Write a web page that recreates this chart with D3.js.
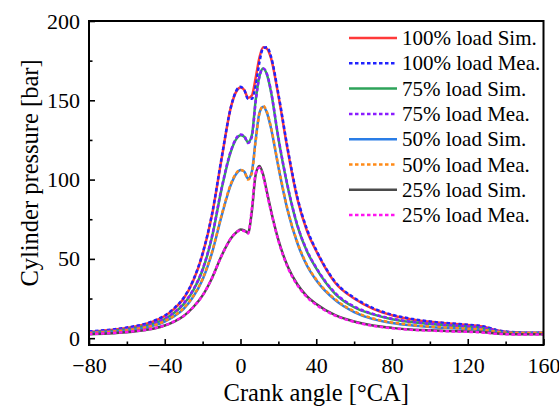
<!DOCTYPE html>
<html>
<head>
<meta charset="utf-8">
<script src="https://cdn.jsdelivr.net/npm/d3@7"></script>
<style>
  body { margin: 0; background: #fff; }
  svg { display: block; font-family: 'Liberation Serif', 'Times New Roman', serif; }
</style>
</head>
<body>
<svg id="chart" width="559" height="408"></svg>
<script>
// crank angle grid shared by all series
const angles = [-80, -70, -60, -50, -45, -40, -35, -30, -25, -20, -15, -10, -5, -2, 0, 2, 4, 6, 8, 10, 12, 14, 16, 20, 25, 30, 35, 40, 50, 60, 70, 80, 90, 100, 110, 120, 125, 130, 135, 140, 150, 160]

const sim100 = [4, 5, 6.5, 9, 11, 14, 18.5, 25, 36, 53, 78, 113, 146, 156, 158, 156.5, 151.5, 153, 164, 177, 183.5, 182.5, 177, 153, 118, 88, 68, 55, 35, 25, 18.5, 14.5, 12, 10.3, 9.2, 8.3, 7.8, 6.8, 5, 4, 3.3, 3.2]
const mea100 = [4.3, 5.2, 6.7, 9.2, 11.3, 14.3, 19, 25.5, 36.5, 53.5, 78.5, 113.5, 146, 156.5, 158.5, 156.5, 151, 151, 159, 174, 183, 183.5, 178, 154, 119, 89, 69, 55.5, 35.5, 25.5, 19, 14.8, 12.3, 10.5, 9.4, 8.5, 8, 7, 5.2, 4.2, 3.5, 3.4]
const sim75 = [3.5, 4.3, 5.6, 7.8, 9.5, 12, 16, 21.5, 30, 43, 64, 94, 118, 126, 128, 127, 123.5, 128, 150, 165, 170, 166, 156, 126, 95, 71, 55, 44, 28, 19.5, 15, 12, 10.2, 8.9, 8, 7.2, 6.8, 6, 4.5, 3.6, 3.2, 3.2]
const mea75 = [3.7, 4.5, 5.8, 8, 9.7, 12.3, 16.3, 22, 30.5, 43.5, 64.5, 94.5, 118.5, 126.5, 128.5, 127.5, 123, 127, 149, 165, 170, 166.5, 156.5, 126.5, 95.5, 71.5, 55.5, 44.5, 28.5, 20, 15.3, 12.3, 10.4, 9.1, 8.2, 7.4, 7, 6.2, 4.7, 3.8, 3.4, 3.4]
const sim50 = [3, 3.7, 4.8, 6.7, 8.2, 10.5, 13.8, 18.5, 26, 37, 54, 77, 97, 104, 106, 105, 100.5, 105, 125, 142, 146, 142, 133, 108, 80, 60, 46, 36.5, 24, 16.5, 12, 9.6, 8.1, 7.1, 6.4, 5.8, 5.5, 4.8, 3.9, 3.3, 3, 3]
const mea50 = [3.2, 3.9, 5, 6.9, 8.4, 10.8, 14.1, 19, 26.5, 37.5, 54.5, 77.5, 97.5, 104.5, 106, 105, 100, 104, 124, 141.5, 146.5, 142.5, 133.5, 108.5, 80.5, 60.5, 46.5, 37, 24.5, 17, 12.4, 9.9, 8.4, 7.3, 6.6, 6, 5.7, 5, 4.1, 3.5, 3.2, 3.2]
const sim25 = [2.5, 3, 3.8, 5.2, 6.3, 8, 10.5, 14, 19.5, 27, 38, 52, 63, 67, 68.5, 68, 66.5, 80, 103, 108.5, 103, 92, 81, 62, 45, 34, 26.5, 21.5, 14.5, 10.5, 8, 6.5, 5.5, 5, 4.5, 4.2, 4, 3.6, 3, 2.7, 2.5, 2.5]
const mea25 = [2.6, 3.1, 3.9, 5.3, 6.4, 8.1, 10.6, 14, 19.5, 27, 38, 52, 63, 67, 68, 67.5, 66, 82, 104, 107.5, 102, 91, 80.5, 61.5, 44.5, 33.5, 26, 21, 14.2, 10.3, 7.8, 6.3, 5.3, 4.8, 4.3, 4, 3.8, 3.4, 2.8, 2.5, 2.3, 2.3]

const seriesNames = ['100% load Sim.', '100% load Mea.', '75% load Sim.', '75% load Mea.', '50% load Sim.', '50% load Mea.', '25% load Sim.', '25% load Mea.']
const seriesValues = [sim100, mea100, sim75, mea75, sim50, mea50, sim25, mea25]
const seriesColors = ['#ff3a3a', '#1f22ff', '#2ea35a', '#8a1cff', '#2a7de6', '#ff8a17', '#4a4a4a', '#ff14f0']
const seriesDashed = [false, true, false, true, false, true, false, true]

const xTicks = [-80, -40, 0, 40, 80, 120, 160]
const xMinor = [-60, -20, 20, 60, 100, 140]
const yTicks = [0, 50, 100, 150, 200]
const yMinor = [25, 75, 125, 175]

const plotLeft = 89, plotRight = 543.5, plotTop = 21, plotBottom = 345

let svg = d3.select('#chart')
let xScale = d3.scaleLinear().domain([-80, 160]).range([plotLeft, plotRight])
let yScale = d3.scaleLinear().domain([-4.3, 200]).range([plotBottom, plotTop])

// curves
let line = d3.line()
    .x(d => xScale(d[0]))
    .y(d => yScale(d[1]))
    .curve(d3.curveMonotoneX)

let g = svg.append('g')
for (let i = 0; i < seriesValues.length; i++) {
    let pts = angles.map((a, j) => [a, seriesValues[i][j]])
    g.append('path').datum(pts)
        .attr('d', line)
        .attr('fill', 'none')
        .attr('stroke', seriesColors[i])
        .attr('stroke-width', 2.5)
        .attr('stroke-dasharray', seriesDashed[i] ? '3.5,2.5' : null)
}

// axes, ticks inward
svg.append('g').attr('transform', 'translate(0,' + plotBottom + ')')
    .call(d3.axisBottom(xScale).tickValues(xTicks).tickSizeInner(-6).tickSizeOuter(0).tickPadding(12))
svg.append('g').attr('transform', 'translate(0,' + plotBottom + ')')
    .call(d3.axisBottom(xScale).tickValues(xMinor).tickSizeInner(-3.5).tickSizeOuter(0).tickFormat(''))
svg.append('g').attr('transform', 'translate(' + plotLeft + ',0)')
    .call(d3.axisLeft(yScale).tickValues(yTicks).tickSizeInner(-6).tickSizeOuter(0).tickPadding(9))
svg.append('g').attr('transform', 'translate(' + plotLeft + ',0)')
    .call(d3.axisLeft(yScale).tickValues(yMinor).tickSizeInner(-3.5).tickSizeOuter(0).tickFormat(''))

svg.selectAll('.domain').remove()
svg.selectAll('.tick line').attr('stroke', '#000').attr('stroke-width', 1.6)
svg.selectAll('.tick text')
    .attr('font-family', "'Liberation Serif', serif")
    .attr('font-size', 22)
    .attr('fill', '#000')

// frame
svg.append('rect')
    .attr('x', plotLeft).attr('y', plotTop)
    .attr('width', plotRight - plotLeft).attr('height', plotBottom - plotTop)
    .attr('fill', 'none').attr('stroke', '#000').attr('stroke-width', 2)

// titles
svg.append('text')
    .attr('x', (plotLeft + plotRight) / 2).attr('y', 401)
    .attr('text-anchor', 'middle')
    .attr('font-size', 24.5)
    .text('Crank angle [°CA]')
svg.append('text')
    .attr('transform', 'translate(38,173) rotate(-90)')
    .attr('text-anchor', 'middle')
    .attr('font-size', 24.5)
    .text('Cylinder pressure [bar]')

// legend
let legend = svg.append('g')
for (let i = 0; i < seriesNames.length; i++) {
    let ly = 38 + i * 25.3
    legend.append('line')
        .attr('x1', 349).attr('x2', 397).attr('y1', ly).attr('y2', ly)
        .attr('stroke', seriesColors[i])
        .attr('stroke-width', 2.5)
        .attr('stroke-dasharray', seriesDashed[i] ? '3.5,2.5' : null)
    legend.append('text')
        .attr('x', 402).attr('y', ly + 7)
        .attr('font-size', 21)
        .text(seriesNames[i])
}
</script>
</body>
</html>
